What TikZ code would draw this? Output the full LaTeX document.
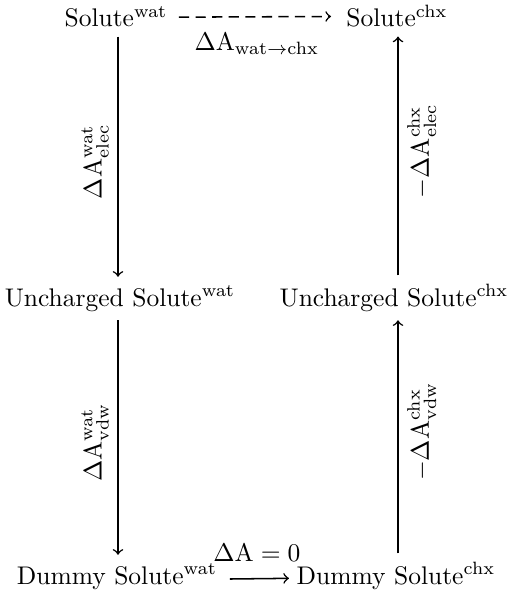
\documentclass[tikz,border=0pt]{standalone}
\usetikzlibrary{calc}
\begin{document}
\begin{tikzpicture}[x=0.3922pt,y=-0.3922pt,
  state/.style={anchor=base,inner sep=3.33pt},
  arr/.style={->,line width=0.6pt},
  dsh/.style={dash pattern=on 4pt off 2.5pt},
  vlabL/.style={rotate=90,anchor=south,xshift=-2pt},
  vlabR/.style={rotate=90,anchor=north,xshift=2pt}]
\useasboundingbox (0,0) rectangle (509,591);
\coordinate (colL) at (118,0);
\coordinate (colR) at (398,0);
\node[state] (sw) at (116,27) {Solute$^{\mathrm{wat}}$};
\node[state] (sc) at (397,27) {Solute$^{\mathrm{chx}}$};
\node[state] (uw) at (120,306) {Uncharged Solute$^{\mathrm{wat}}$};
\node[state] (uc) at (394,306) {Uncharged Solute$^{\mathrm{chx}}$};
\node[state] (dw) at (117,584) {Dummy Solute$^{\mathrm{wat}}$};
\node[state] (dc) at (396,584) {Dummy Solute$^{\mathrm{chx}}$};
% top dashed
\draw[arr,dsh,shorten <=1pt,shorten >=2.5pt] (sw.east) -- (sc.west)
  node[midway,below,yshift=-2.7pt] (lt) {$\Delta\mathrm{A}_{\mathrm{wat}\rightarrow\mathrm{chx}}$};
% bottom
\draw[arr,shorten <=1.5pt,shorten >=-0.5pt] ([yshift=-1pt]dw.east) -- ([yshift=-1pt]dc.west)
  node[midway,above,yshift=3pt,xshift=0pt] (lb) {$\Delta\mathrm{A}=0$};
% left verticals
\draw[arr] (sw.south -| colL) -- (uw.north -| colL)
  node[midway,vlabL] (l1) {$\Delta\mathrm{A}^{\mathrm{wat}}_{\mathrm{elec}}$};
\draw[arr] (uw.south -| colL) -- (dw.north -| colL)
  node[midway,vlabL] (l2) {$\Delta\mathrm{A}^{\mathrm{wat}}_{\mathrm{vdw}}$};
% right verticals
\draw[arr] (uc.north -| colR) -- (sc.south -| colR)
  node[midway,vlabR] (r1) {$-\Delta\mathrm{A}^{\mathrm{chx}}_{\mathrm{elec}}$};
\draw[arr] (dc.north -| colR) -- (uc.south -| colR)
  node[midway,vlabR] (r2) {$-\Delta\mathrm{A}^{\mathrm{chx}}_{\mathrm{vdw}}$};
\end{tikzpicture}
\end{document}
